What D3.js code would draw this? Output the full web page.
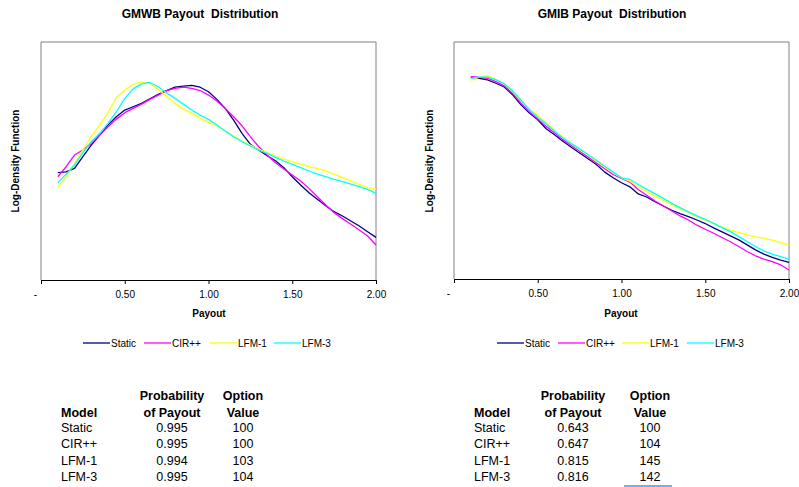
<!DOCTYPE html>
<html><head><meta charset="utf-8">
<script src="https://cdn.jsdelivr.net/npm/d3@7"></script>
<style>
body{margin:0;background:#fff;}
svg{display:block;font-family:"Liberation Sans",Arial,sans-serif;}
</style></head>
<body><svg id="c" width="799" height="487"></svg>
<script>
// Payout grid (x values)
const payout = [0.10,0.15,0.20,0.25,0.30,0.35,0.40,0.45,0.50,0.55,0.60,0.65,0.70,0.75,0.80,0.85,0.90,0.95,1.00,1.05,1.10,1.15,1.20,1.25,1.30,1.35,1.40,1.45,1.50,1.55,1.60,1.65,1.70,1.75,1.80,1.85,1.90,1.95,2.00];
const xTicks = [0, 0.5, 1.0, 1.5, 2.0];
const xTickLabels = ["-", "0.50", "1.00", "1.50", "2.00"];
const models = ["Static", "CIR++", "LFM-1", "LFM-3"];
const colors = ["#000080", "#ff00ff", "#ffff00", "#00ffff"];

// GMWB log-density (relative units)
const gmwbStatic = [45.1,45.4,46.9,51.8,56.7,60.9,65.1,68.6,71.4,72.8,74.2,76.1,78.0,79.6,81.0,81.5,81.8,81.0,79.1,75.9,72.1,67.2,61.6,57.0,54.6,52.2,50.1,47.2,43.4,39.9,36.7,33.9,31.2,28.7,26.9,24.8,22.7,20.3,17.9];
const gmwbCIR = [43.4,47.6,52.5,54.6,57.4,60.9,64.4,67.6,70.3,72.1,73.9,75.9,77.7,79.6,80.5,81.0,80.5,79.6,77.7,75.2,72.1,68.6,64.8,60.2,56.0,52.5,49.3,46.6,44.1,41.6,38.5,35.0,31.5,28.3,25.8,23.4,21.0,18.5,14.7];
const gmwbLFM1 = [38.9,43.4,49.0,54.6,60.2,65.1,70.3,76.7,79.8,82.2,83.2,82.6,80.1,77.0,74.2,71.8,70.0,67.9,66.2,64.7,62.6,60.5,58.5,56.7,55.0,53.5,52.1,50.8,49.7,48.7,47.6,46.8,45.9,44.5,43.0,41.7,40.2,38.8,38.1];
const gmwbLFM3 = [40.9,44.5,48.3,53.5,58.1,61.6,65.8,70.7,76.3,80.3,82.4,83.0,81.2,78.7,76.3,73.9,71.4,69.3,67.5,65.1,62.6,60.2,58.1,56.3,54.6,53.2,51.5,50.0,48.6,47.2,45.8,44.5,43.4,42.3,41.3,40.3,39.2,38.1,36.4];

// GMIB log-density (relative units)
const gmibStatic = [85.2,84.7,84.0,82.6,81.0,77.7,73.5,70.0,67.2,63.4,60.9,58.1,55.6,53.2,50.7,48.3,45.1,42.7,40.6,38.9,35.9,34.6,32.6,30.8,29.0,27.6,26.3,24.9,23.4,21.6,19.9,18.2,16.5,14.4,12.3,10.5,9.1,8.0,7.0];
const gmibCIR = [85.4,85.2,84.7,83.3,81.5,78.4,74.2,70.6,67.5,64.4,61.6,58.8,56.3,53.9,51.5,49.0,46.5,44.1,42.4,40.9,37.8,35.3,32.9,30.8,28.7,26.6,24.9,22.7,21.0,19.3,17.5,15.7,13.7,11.6,9.8,8.4,7.3,6.0,3.8];
const gmibLFM1 = [83.8,85.2,85.7,84.3,82.4,79.1,75.4,71.7,68.9,65.8,62.7,59.8,57.1,54.6,52.2,49.7,47.2,44.8,42.7,41.3,38.9,36.8,35.0,33.2,31.2,29.7,28.0,26.3,24.8,23.5,22.0,20.6,19.6,18.6,17.8,17.1,16.4,15.4,14.4];
const gmibLFM3 = [84.7,85.2,85.2,84.0,82.4,79.4,75.4,71.4,68.3,65.4,62.3,59.5,57.1,54.9,52.5,50.1,47.6,45.1,42.7,42.0,39.9,37.8,36.0,34.0,31.9,30.1,28.3,26.6,25.2,23.5,21.7,20.0,17.9,15.8,13.7,11.9,10.5,9.4,8.4];

// Tables
const gmwbProb = ["0.995","0.995","0.994","0.995"];
const gmwbValue = ["100","100","103","104"];
const gmibProb = ["0.643","0.647","0.815","0.816"];
const gmibValue = ["100","104","145","142"];

const svg = d3.select("#c");

function panel(o){
  const g = svg.append("g");
  const x = d3.scaleLinear().domain([0,2]).range([o.left,o.right]);
  const y = d3.scaleLinear().domain([0,100]).range([o.bottom,o.top]);
  // frame (gray) left/top/right
  g.append("path").attr("d",`M${o.left},${o.bottom}V${o.top}H${o.right}V${o.bottom}`)
    .attr("fill","none").attr("stroke","#808080").attr("stroke-width",1);
  // x axis
  const ax = d3.axisBottom(x).tickValues(xTicks).tickSize(4).tickFormat((d,i)=>xTickLabels[i]);
  const axg = g.append("g").attr("transform",`translate(0,${o.bottom})`).call(ax);
  axg.select(".domain").attr("stroke","#000");
  axg.selectAll(".tick line").attr("stroke","#000");
  axg.selectAll(".tick text").attr("font-size",10).attr("font-family","Liberation Sans, Arial").attr("fill","#000").attr("dy","1.05em")
     .attr("dx",(d,i)=> i===0 ? -6 : 0);
  // series
  const line = d3.line().x((d,i)=>x(payout[i])).y(d=>y(d)).curve(d3.curveLinear);
  o.series.forEach((s,k)=>{
    g.append("path").datum(s).attr("d",line).attr("fill","none")
      .attr("stroke",colors[k]).attr("stroke-width",1.3).attr("stroke-linejoin","round");
  });
  // titles
  g.append("text").attr("x",o.titleX).attr("y",18).attr("text-anchor","middle")
    .attr("font-size",12).attr("font-weight","bold").attr("xml:space","preserve").text(o.title);
  g.append("text").attr("x",o.xlabX).attr("y",317).attr("text-anchor","middle")
    .attr("font-size",10).attr("font-weight","bold").text("Payout");
  g.append("text").attr("transform",`translate(${o.ylabX},161) rotate(-90)`).attr("text-anchor","middle")
    .attr("font-size",10).attr("font-weight","bold").text("Log-Density Function");
  // legend
  o.legend.forEach((lx,k)=>{
    g.append("line").attr("x1",lx).attr("x2",lx+27).attr("y1",343).attr("y2",343)
      .attr("stroke",colors[k]).attr("stroke-width",1.3);
    g.append("text").attr("x",lx+28).attr("y",347).attr("font-size",10).text(models[k]);
  });
  // table
  const t = o.table;
  const hdr = [["Probability",t.pX,396],["of Payout",t.pX,413],["Option",t.vX,396],["Value",t.vX,413]];
  g.append("text").attr("x",t.mX).attr("y",417).attr("font-size",12.5).attr("font-weight","bold").text("Model");
  hdr.forEach(h=> g.append("text").attr("x",h[1]).attr("y",h[2]+4).attr("text-anchor","middle")
    .attr("font-size",12.5).attr("font-weight","bold").text(h[0]));
  models.forEach((m,i)=>{
    const yy = 432 + i*16.3;
    g.append("text").attr("x",t.mX).attr("y",yy).attr("font-size",12.5).text(m);
    g.append("text").attr("x",t.pX).attr("y",yy).attr("text-anchor","middle").attr("font-size",12.5).text(t.prob[i]);
    g.append("text").attr("x",t.vX).attr("y",yy).attr("text-anchor","middle").attr("font-size",12.5).text(t.val[i]);
  });
}

panel({left:41,right:376,top:42,bottom:280,titleX:200,xlabX:209,ylabX:19,
  title:"GMWB Payout  Distribution",
  series:[gmwbStatic,gmwbCIR,gmwbLFM1,gmwbLFM3],
  legend:[83,144,210,274],
  table:{mX:61,pX:172,vX:243,prob:gmwbProb,val:gmwbValue}});
panel({left:454,right:789,top:42,bottom:279,titleX:612,xlabX:621,ylabX:433,
  title:"GMIB Payout  Distribution",
  series:[gmibStatic,gmibCIR,gmibLFM1,gmibLFM3],
  legend:[497,558,622,687],
  table:{mX:474,pX:573,vX:650,prob:gmibProb,val:gmibValue}});
// selection underline under last cell
svg.append("line").attr("x1",624).attr("x2",672).attr("y1",486).attr("y2",486)
  .attr("stroke","#3399ff").attr("stroke-width",1.5);
</script></body></html>
